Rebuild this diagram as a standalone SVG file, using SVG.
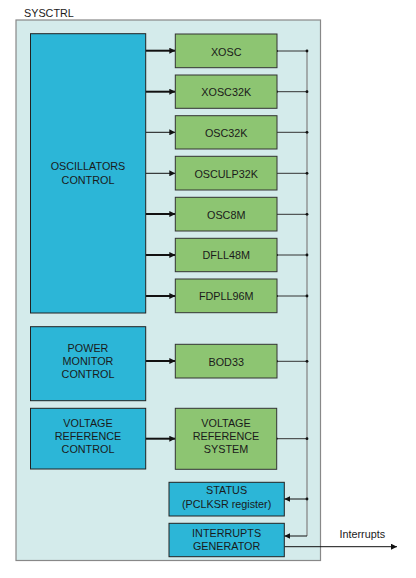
<svg xmlns="http://www.w3.org/2000/svg" width="416" height="578" viewBox="0 0 416 578">
<style>
text{font-family:"Liberation Sans",Arial,sans-serif;font-size:10.8px;fill:#1a1a1a;text-anchor:middle}
.ctl{fill:#2cb6d7;stroke:#222;stroke-width:1}
.blk{fill:#8dc572;stroke:#333;stroke-width:1}
.thk{stroke:#111;stroke-width:2;fill:none}
.thn{stroke:#111;stroke-width:1;fill:none}
.tap{stroke:#333;stroke-width:1;fill:none}
.bus{stroke:#888;stroke-width:1.3;fill:none}
</style>
<defs>
<marker id="ah" viewBox="0 0 10 10" refX="10" refY="5" markerWidth="6" markerHeight="6" markerUnits="userSpaceOnUse" orient="auto">
<path d="M0,0 L10,5 L0,10 z" fill="#111"/>
</marker>
</defs>
<rect width="416" height="578" fill="#fff"/>
<g id="sysctrl">
<rect x="16" y="20" width="304.5" height="540.5" fill="#d4ebeb" stroke="#888" stroke-width="1.2"/>
<text x="24" y="16.6" style="text-anchor:start">SYSCTRL</text>
</g>
<g id="connectors">
<line class="thk" x1="145.7" y1="50.7" x2="175.3" y2="50.7" marker-end="url(#ah)"/>
<line class="thk" x1="145.7" y1="91.7" x2="175.3" y2="91.7" marker-end="url(#ah)"/>
<line class="thn" x1="145.7" y1="132.3" x2="175.3" y2="132.3" marker-end="url(#ah)"/>
<line class="thn" x1="145.7" y1="173.3" x2="175.3" y2="173.3" marker-end="url(#ah)"/>
<line class="thk" x1="145.7" y1="214" x2="175.3" y2="214" marker-end="url(#ah)"/>
<line class="thk" x1="145.7" y1="255" x2="175.3" y2="255" marker-end="url(#ah)"/>
<line class="thk" x1="145.7" y1="296" x2="175.3" y2="296" marker-end="url(#ah)"/>
<line class="thk" x1="145.7" y1="361" x2="175.3" y2="361" marker-end="url(#ah)"/>
<line class="thk" x1="145.7" y1="438.7" x2="175.3" y2="438.7" marker-end="url(#ah)"/>
<line class="bus" x1="307" y1="51" x2="307" y2="536"/>
<line class="tap" x1="277" y1="51" x2="307" y2="51"/>
<line class="tap" x1="277" y1="91.7" x2="307" y2="91.7"/>
<line class="tap" x1="277" y1="132.3" x2="307" y2="132.3"/>
<line class="tap" x1="277" y1="173.3" x2="307" y2="173.3"/>
<line class="tap" x1="277" y1="214.3" x2="307" y2="214.3"/>
<line class="tap" x1="277" y1="255" x2="307" y2="255"/>
<line class="tap" x1="277" y1="296" x2="307" y2="296"/>
<line class="tap" x1="277" y1="361.3" x2="307" y2="361.3"/>
<line class="tap" x1="276.7" y1="438.7" x2="307" y2="438.7"/>
<line class="thn" x1="307" y1="499" x2="284.3" y2="499" marker-end="url(#ah)"/>
<line class="thn" x1="307" y1="536" x2="284.3" y2="536" marker-end="url(#ah)"/>
<line class="thn" x1="284.3" y1="546.7" x2="397" y2="546.7" marker-end="url(#ah)"/>
<g fill="#111">
<circle cx="307" cy="51" r="1.4"/><circle cx="307" cy="91.7" r="1.4"/><circle cx="307" cy="132.3" r="1.4"/>
<circle cx="307" cy="173.3" r="1.4"/><circle cx="307" cy="214.3" r="1.4"/><circle cx="307" cy="255" r="1.4"/>
<circle cx="307" cy="296" r="1.4"/><circle cx="307" cy="361.3" r="1.4"/><circle cx="307" cy="438.7" r="1.4"/>
<circle cx="307" cy="499" r="1.4"/>
<circle cx="277" cy="51" r="1.1"/><circle cx="277" cy="91.7" r="1.1"/><circle cx="277" cy="296" r="1.1"/><circle cx="277" cy="255" r="1.1"/><circle cx="277" cy="361.3" r="1.1"/><circle cx="276.7" cy="438.7" r="1.1"/>
</g>
<text x="339.5" y="538" style="text-anchor:start">Interrupts</text>
</g>
<g id="osc-ctrl"><rect class="ctl" x="30.5" y="33.7" width="115.2" height="279.3"/><text x="88" y="170.3">OSCILLATORS</text><text x="88" y="184">CONTROL</text></g>
<g id="xosc"><rect class="blk" x="175.3" y="34" width="101.7" height="33.7"/><text x="226.2" y="55.5">XOSC</text></g>
<g id="xosc32k"><rect class="blk" x="175.3" y="75" width="101.7" height="33.3"/><text x="226.2" y="96">XOSC32K</text></g>
<g id="osc32k"><rect class="blk" x="175.3" y="115.7" width="101.7" height="33.3"/><text x="226.2" y="136.6">OSC32K</text></g>
<g id="osculp32k"><rect class="blk" x="175.3" y="156.3" width="101.7" height="33.7"/><text x="226.2" y="177.6">OSCULP32K</text></g>
<g id="osc8m"><rect class="blk" x="175.3" y="197.3" width="101.7" height="33.7"/><text x="226.2" y="218.6">OSC8M</text></g>
<g id="dfll48m"><rect class="blk" x="175.3" y="238.3" width="101.7" height="33.4"/><text x="226.2" y="259.3">DFLL48M</text></g>
<g id="fdpll96m"><rect class="blk" x="175.3" y="279" width="101.7" height="33.7"/><text x="226.2" y="300.3">FDPLL96M</text></g>
<g id="pm-ctrl"><rect class="ctl" x="30.5" y="326.7" width="115.2" height="74"/><text x="88" y="351.6">POWER</text><text x="88" y="365">MONITOR</text><text x="88" y="378.3">CONTROL</text></g>
<g id="bod33"><rect class="blk" x="175.3" y="344.3" width="101.7" height="33.7"/><text x="226.2" y="365.6">BOD33</text></g>
<g id="vr-ctrl"><rect class="ctl" x="30.5" y="408.3" width="115.2" height="60.7"/><text x="88" y="426.6">VOLTAGE</text><text x="88" y="440">REFERENCE</text><text x="88" y="453.3">CONTROL</text></g>
<g id="vr-sys"><rect class="blk" x="175.3" y="408.3" width="101.4" height="61"/><text x="226" y="426.6">VOLTAGE</text><text x="226" y="440">REFERENCE</text><text x="226" y="453.3">SYSTEM</text></g>
<g id="status"><rect class="ctl" x="169" y="482.3" width="115.3" height="33.7"/><text x="226.6" y="493.6">STATUS</text><text x="226.6" y="508">(PCLKSR register)</text></g>
<g id="intgen"><rect class="ctl" x="169" y="523.3" width="115.3" height="33.4"/><text x="226.6" y="537">INTERRUPTS</text><text x="226.6" y="549.6">GENERATOR</text></g>
</svg>
